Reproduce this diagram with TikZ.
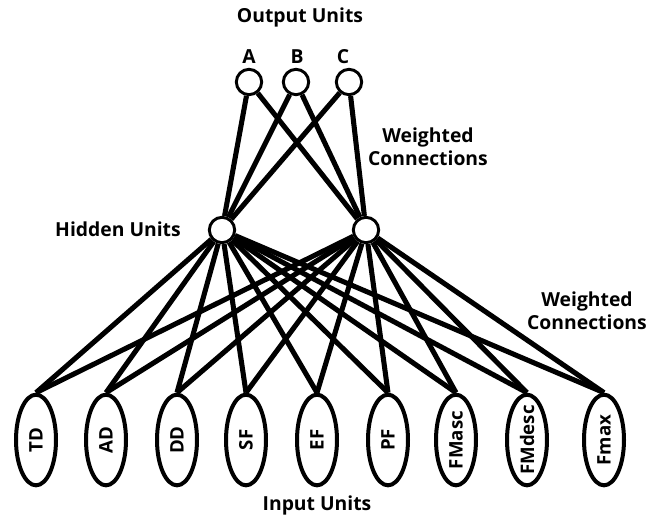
\documentclass[tikz,border=0pt]{standalone}
\usepackage{fontspec}
\setmainfont{Open Sans}
\usetikzlibrary{shapes.geometric}
\tikzset{
    sirkel/.style={
           circle,
           draw=black, line width=2.2pt,
           fill=white,
           minimum size=19pt,
           inner sep=0pt},
    oval/.style={
           ellipse,
           draw=black, line width=3pt,
           fill=white,
           minimum width=30pt,
           minimum height=68pt,
           inner sep=-10pt,
           font=\fontsize{14pt}{15pt}\selectfont\bfseries},
    linje/.style={
           line width=3.8pt},
    tekst/.style={
           font=\fontsize{14.5pt}{17pt}\selectfont\bfseries,
           align=center,
           inner sep=0pt}
}
\begin{document}
\begin{tikzpicture}[x=0.75pt,y=-0.75pt]
          \def \ovaly {440}
          \useasboundingbox (0,0) rectangle (661,521);
          % output layer
          \node[tekst](output) at (300,17) {Output Units};
          \node[sirkel](uA) at (249,82) {};
          \node[sirkel](uB) at (296,82) {};
          \node[sirkel](uC) at (349,82) {};
          \node[tekst](lA) at (249,57) {A};
          \node[tekst](lB) at (297,57) {B};
          \node[tekst](lC) at (343,57) {C};
          \node[tekst](vekt1) at (428,147) {Weighted\\Connections};
          % hidden layer
          \node[sirkel](hv) at (222,230) {};
          \node[sirkel](hh) at (366,230) {};
          \node[tekst](hidden) at (118,229) {Hidden Units};
          \node[tekst](vekt2) at (587,311) {Weighted\\Connections};
          % input layer
          \node[oval](TD) at (36,\ovaly) {\rotatebox{90}{TD}};
          \node[oval](AD) at (106,\ovaly) {\rotatebox{90}{AD}};
          \node[oval](DD) at (177,\ovaly) {\rotatebox{90}{DD}};
          \node[oval](SF) at (246,\ovaly) {\rotatebox{90}{SF}};
          \node[oval](EF) at (317,\ovaly) {\rotatebox{90}{EF}};
          \node[oval](PF) at (388,\ovaly) {\rotatebox{90}{PF}};
          \node[oval](FMasc) at (456,\ovaly) {\rotatebox{90}{FMasc}};
          \node[oval](FMdesc) at (527,\ovaly) {\rotatebox{90}{FMdesc}};
          \node[oval](Fmax) at (604,\ovaly) {\rotatebox{90}{Fmax}};
          \node[tekst](input) at (317,505) {Input Units};
          \draw[linje] (uA) -- (hv);
          \draw[linje] (uA) -- (hh);
          \draw[linje] (uB) -- (hv);
          \draw[linje] (uB) -- (hh);
          \draw[linje] (uC) -- (hv);
          \draw[linje] (uC) -- (hh);
          \draw[linje] (hv) -- (TD.north);
          \draw[linje] (hv) -- (AD.north);
          \draw[linje] (hv) -- (DD.north);
          \draw[linje] (hv) -- (SF.north);
          \draw[linje] (hv) -- (EF.north);
          \draw[linje] (hv) -- (PF.north);
          \draw[linje] (hv) -- (FMasc.north);
          \draw[linje] (hv) -- (FMdesc.north);
          \draw[linje] (hv) -- (Fmax.north);
          \draw[linje] (hh) -- (TD.north);
          \draw[linje] (hh) -- (AD.north);
          \draw[linje] (hh) -- (DD.north);
          \draw[linje] (hh) -- (SF.north);
          \draw[linje] (hh) -- (EF.north);
          \draw[linje] (hh) -- (PF.north);
          \draw[linje] (hh) -- (FMasc.north);
          \draw[linje] (hh) -- (FMdesc.north);
          \draw[linje] (hh) -- (Fmax.north);
         \end{tikzpicture}
\end{document}
